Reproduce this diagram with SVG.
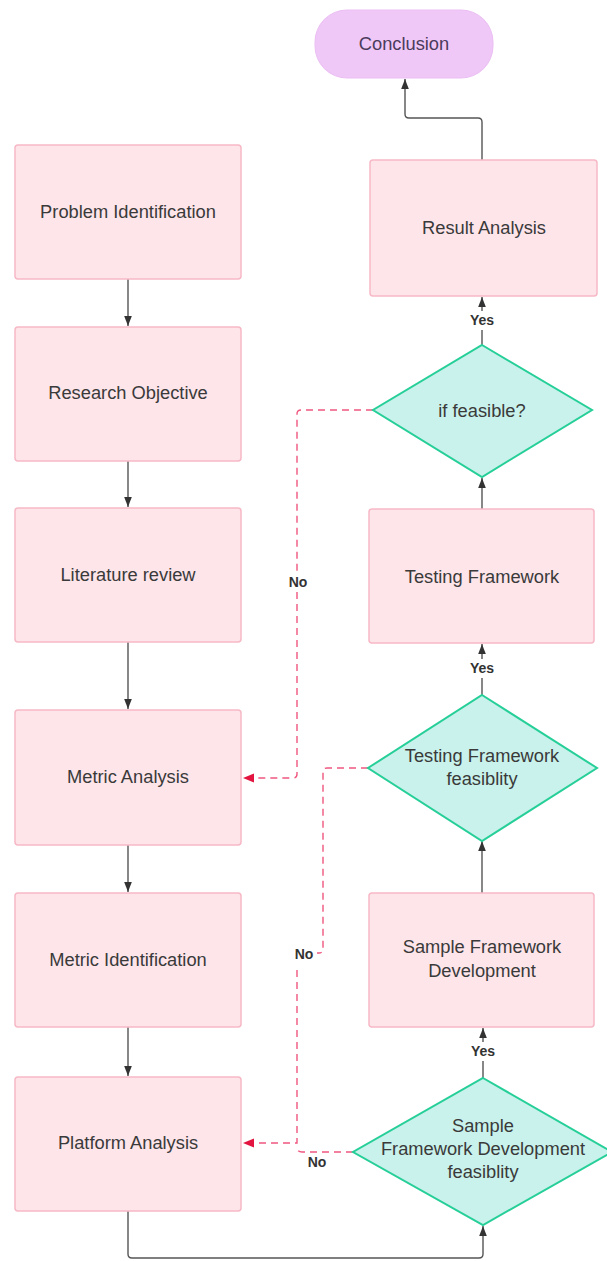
<svg xmlns="http://www.w3.org/2000/svg" width="607" height="1261" viewBox="0 0 607 1261">
<style>
.box{fill:#fde5ea;stroke:#f7b8c6;stroke-width:1.5}
.dia{fill:#c9f2ec;stroke:#27cf98;stroke-width:2}
.pill{fill:#f0c8f7;stroke:#ebbdf3;stroke-width:1}
.t{font-family:"Liberation Sans",Arial,sans-serif;font-size:18.3px;fill:#3a3a3a;text-anchor:middle;dominant-baseline:central}
.tc{fill:#4b3b5c}
.lbl{font-family:"Liberation Sans",Arial,sans-serif;font-size:14px;font-weight:bold;fill:#333;text-anchor:middle;dominant-baseline:central}
.c{fill:none;stroke:#555;stroke-width:1.4}
.no{fill:none;stroke:#f0577f;stroke-width:1.4;stroke-dasharray:7 5}
</style>
<defs>
<marker id="ah" viewBox="0 0 10 10" refX="10" refY="5" markerWidth="10" markerHeight="10" markerUnits="userSpaceOnUse" orient="auto"><path d="M0,1.2 L10,5 L0,8.8 z" fill="#333"/></marker>
<marker id="ahr" viewBox="0 0 10 10" refX="10" refY="5" markerWidth="11" markerHeight="11" markerUnits="userSpaceOnUse" orient="auto"><path d="M0,0.8 L10,5 L0,9.2 z" fill="#e3143f"/></marker>
</defs>
<rect width="607" height="1261" fill="#ffffff"/>
<g id="connectors">
<path class="c" d="M128,279 V326" marker-end="url(#ah)"/>
<path class="c" d="M128,461 V507" marker-end="url(#ah)"/>
<path class="c" d="M128,642 V709" marker-end="url(#ah)"/>
<path class="c" d="M128,845 V892" marker-end="url(#ah)"/>
<path class="c" d="M128,1027 V1076" marker-end="url(#ah)"/>
<path class="c" d="M128,1211 V1254 Q128,1258 132,1258 H479 Q483,1258 483,1254 V1226" marker-end="url(#ah)"/>
<path class="c" d="M483,1078 V1061 M483,1042 V1028" marker-end="url(#ah)"/>
<path class="c" d="M482,893 V841" marker-end="url(#ah)"/>
<path class="c" d="M482,695 V678 M482,659 V644" marker-end="url(#ah)"/>
<path class="c" d="M482,509 V478" marker-end="url(#ah)"/>
<path class="c" d="M482,345 V330 M482,311 V297" marker-end="url(#ah)"/>
<path class="c" d="M482,160 V122 Q482,118 478,118 H409 Q405,118 405,114 V79" marker-end="url(#ah)"/>
<path class="no" d="M373,410 H301 Q297,410 297,414 V573 M297,592 V774 Q297,778 293,778 H243" marker-end="url(#ahr)"/>
<path class="no" d="M368,768 H327 Q323,768 323,772 V949 Q323,953 319,953 H317"/>
<path class="no" d="M297,970 V1143 H243" marker-end="url(#ahr)"/>
<path class="no" d="M353,1152 H302 Q297,1152 297,1147"/>
<text class="lbl" x="298" y="582">No</text>
<text class="lbl" x="304" y="954">No</text>
<text class="lbl" x="317" y="1162">No</text>
<text class="lbl" x="482" y="320">Yes</text>
<text class="lbl" x="482" y="668">Yes</text>
<text class="lbl" x="483" y="1051">Yes</text>
</g>
<g id="conclusion"><rect class="pill" x="315" y="10" width="178" height="68" rx="32"/><text class="t tc" x="404" y="43">Conclusion</text></g>
<g id="problem-identification"><rect class="box" x="15" y="145" width="226" height="134" rx="3"/><text class="t" x="128" y="211">Problem Identification</text></g>
<g id="research-objective"><rect class="box" x="15" y="327" width="226" height="134" rx="3"/><text class="t" x="128" y="392">Research Objective</text></g>
<g id="literature-review"><rect class="box" x="15" y="508" width="226" height="134" rx="3"/><text class="t" x="128" y="574">Literature review</text></g>
<g id="metric-analysis"><rect class="box" x="15" y="710" width="226" height="135" rx="3"/><text class="t" x="128" y="776">Metric Analysis</text></g>
<g id="metric-identification"><rect class="box" x="15" y="893" width="226" height="134" rx="3"/><text class="t" x="128" y="959">Metric Identification</text></g>
<g id="platform-analysis"><rect class="box" x="15" y="1077" width="226" height="134" rx="3"/><text class="t" x="128" y="1142">Platform Analysis</text></g>
<g id="result-analysis"><rect class="box" x="370" y="160" width="227" height="136" rx="3"/><text class="t" x="484" y="227">Result Analysis</text></g>
<g id="if-feasible"><polygon class="dia" points="482,345 592,410 482,477 373,410"/><text class="t" x="482" y="410">if feasible?</text></g>
<g id="testing-framework"><rect class="box" x="369" y="509" width="225" height="134" rx="3"/><text class="t" x="482" y="576">Testing Framework</text></g>
<g id="testing-framework-feasibility"><polygon class="dia" points="482,695 597,768 482,841 368,768"/><text class="t" x="482" y="755">Testing Framework</text><text class="t" x="482" y="778">feasiblity</text></g>
<g id="sample-framework-development"><rect class="box" x="369" y="893" width="225" height="134" rx="3"/><text class="t" x="482" y="946">Sample Framework</text><text class="t" x="482" y="970">Development</text></g>
<g id="sample-framework-feasibility"><polygon class="dia" points="483,1078 612,1152 483,1225 353,1152"/><text class="t" x="483" y="1125">Sample</text><text class="t" x="483" y="1148">Framework Development</text><text class="t" x="483" y="1171">feasiblity</text></g>
</svg>
